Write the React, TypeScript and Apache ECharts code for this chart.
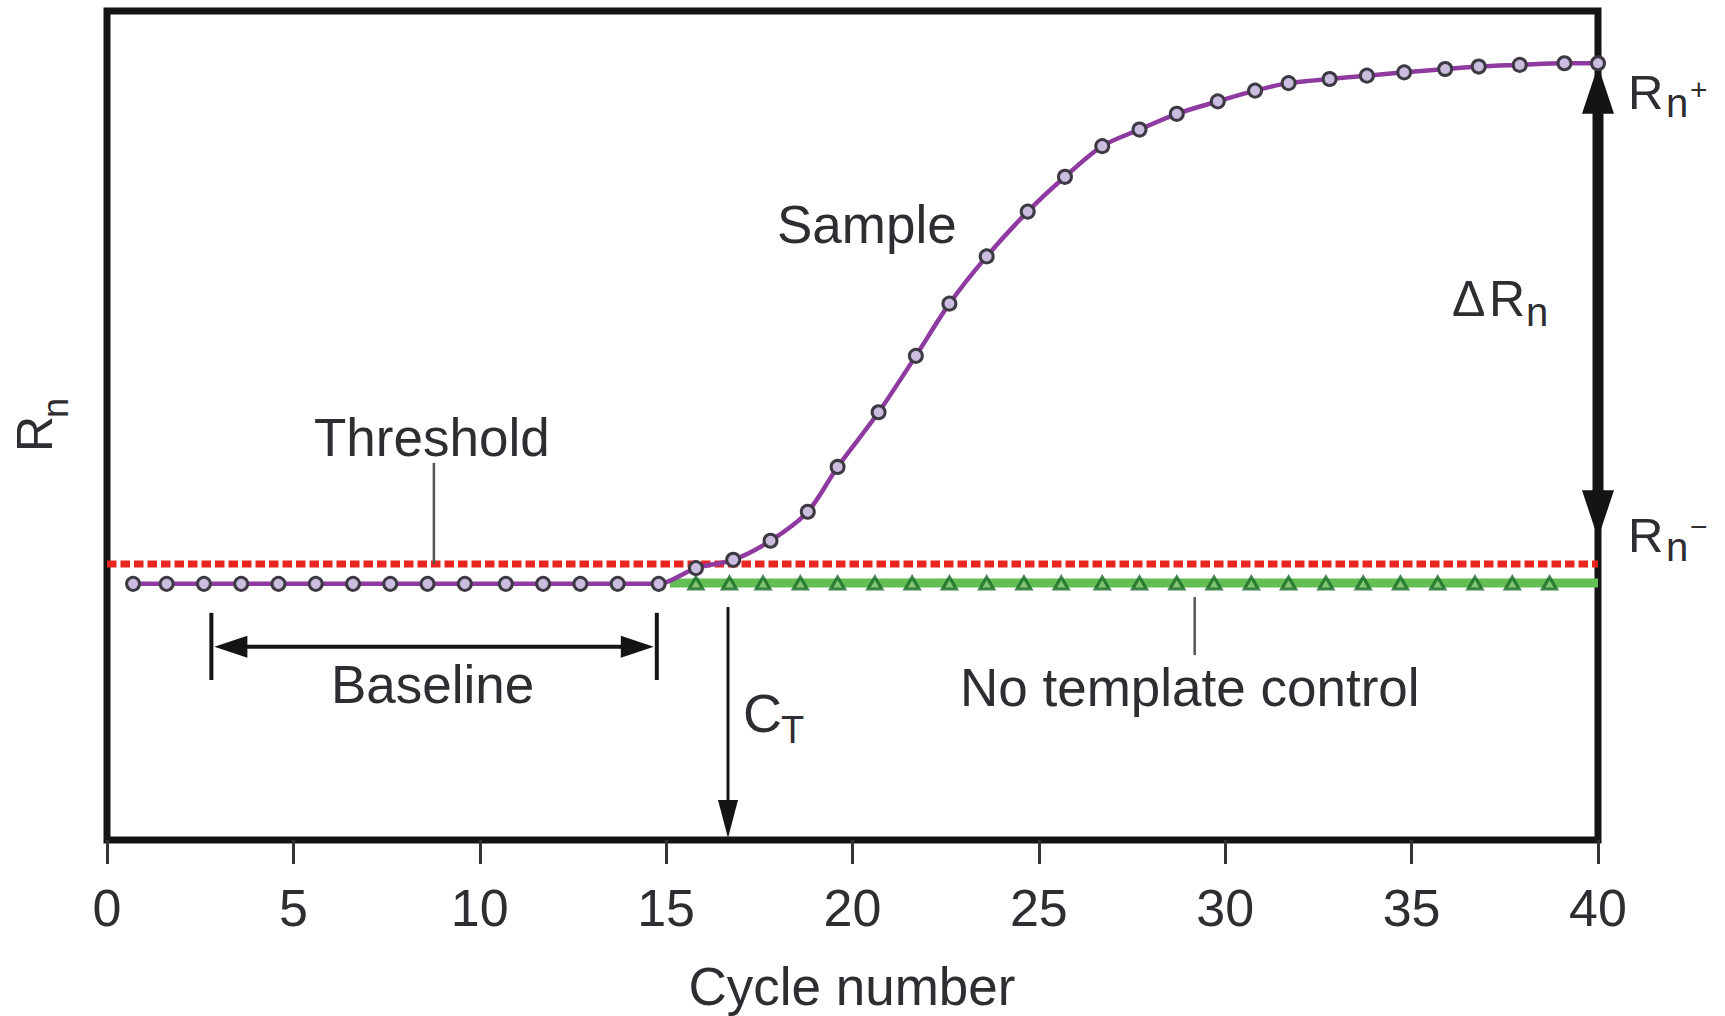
import React, { useEffect, useRef } from "react";
import * as echarts from "echarts";

// ---- data (x = cycle number, y = Rn in arbitrary units 0..100) ----
const sampleCycles = [
  0.7, 1.6, 2.6, 3.6, 4.6, 5.6, 6.6, 7.6, 8.6, 9.6, 10.7, 11.7, 12.7, 13.7, 14.8,
  15.8, 16.8, 17.8, 18.8, 19.6, 20.7, 21.7, 22.6, 23.6, 24.7,
  25.7, 26.7, 27.7, 28.7, 29.8, 30.8, 31.7, 32.8, 33.8, 34.8, 35.9, 36.8, 37.9, 39.1, 40.0,
];
const sampleRn = [
  30.9, 30.9, 30.9, 30.9, 30.9, 30.9, 30.9, 30.9, 30.9, 30.9, 30.9, 30.9, 30.9, 30.9, 30.9,
  32.8, 33.8, 36.1, 39.6, 45.0, 51.6, 58.4, 64.7, 70.4, 75.8,
  80.0, 83.7, 85.7, 87.6, 89.1, 90.4, 91.3, 91.8, 92.2, 92.6, 93.0, 93.3, 93.5, 93.7, 93.7,
];
const ntcCycles = [
  15.8, 16.7, 17.6, 18.6, 19.6, 20.6, 21.6, 22.6, 23.6, 24.6, 25.6, 26.7,
  27.7, 28.7, 29.7, 30.7, 31.7, 32.7, 33.7, 34.7, 35.7, 36.7, 37.7, 38.7,
];
const ntcRn = [
  31.0, 31.0, 31.0, 31.0, 31.0, 31.0, 31.0, 31.0, 31.0, 31.0, 31.0, 31.0,
  31.0, 31.0, 31.0, 31.0, 31.0, 31.0, 31.0, 31.0, 31.0, 31.0, 31.0, 31.0,
];
const ntcLineCycles = [15.1, 40.0];
const ntcLineRn = [31.0, 31.0];
const thresholdCycles = [0, 40];
const thresholdRn = [33.3, 33.3];

// annotation anchors (data units)
const baselineRange = [2.8, 14.75];
const baselineArrowRn = 23.3;
const baselineBarRn = [27.4, 19.3];
const ctCycle = 16.66;
const ctRn = [28.1, 0];
const thresholdLeaderCycle = 8.77;
const thresholdLeaderRn = [45.5, 33.3];
const ntcLeaderCycle = 29.18;
const ntcLeaderRn = [29.3, 22.3];
const deltaCycle = 40;
const deltaRn = [93.4, 36.4];

const xMin = 0;
const xMax = 40;
const xStep = 5;

export default function App() {
  const ref = useRef<HTMLDivElement>(null);
  useEffect(() => {
    const el = ref.current as HTMLDivElement;
    const chart = echarts.init(el, null, { renderer: "svg" });
    const font = "'Liberation Sans', Arial, Helvetica, sans-serif";
    const ink = "#2e2d31";
    const zip = (a: number[], b: number[]) => a.map((v, i) => [v, b[i]]);

    chart.setOption({
      animation: false,
      backgroundColor: "#ffffff",
      grid: {
        left: 107,
        right: 127,
        top: 11,
        bottom: 176,
        show: true,
        borderColor: "#141414",
        borderWidth: 7,
        backgroundColor: "transparent",
      },
      xAxis: {
        type: "value",
        min: xMin,
        max: xMax,
        interval: xStep,
        axisLine: { show: false },
        axisTick: { show: true, length: 24, lineStyle: { color: "#333", width: 3 } },
        axisLabel: { fontSize: 52, fontFamily: font, color: ink, margin: 42 },
        splitLine: { show: false },
      },
      yAxis: { type: "value", min: 0, max: 100, show: false, splitLine: { show: false } },
      series: [
        {
          type: "line",
          name: "NTC baseline",
          data: zip(ntcLineCycles, ntcLineRn),
          symbol: "none",
          lineStyle: { color: "#63bf54", width: 9 },
          z: 2,
        },
        {
          type: "line",
          name: "Threshold",
          data: zip(thresholdCycles, thresholdRn),
          symbol: "none",
          lineStyle: { color: "#e8261f", width: 7, type: [9.5, 4], cap: "butt" },
          z: 3,
        },
        {
          type: "scatter",
          name: "No template control",
          data: zip(ntcCycles, ntcRn),
          symbol: "triangle",
          symbolSize: [14, 12],
          itemStyle: { color: "#86c878", borderColor: "#186a26", borderWidth: 3 },
          z: 4,
        },
        {
          type: "line",
          name: "Sample",
          data: zip(sampleCycles, sampleRn),
          smooth: 0.3,
          symbol: "circle",
          symbolSize: 13,
          showAllSymbol: true,
          lineStyle: { color: "#8e3aa0", width: 4.5 },
          itemStyle: { color: "#cbbde0", borderColor: "#3e3a44", borderWidth: 3 },
          z: 12,
        },
      ],
    });

    const P = (x: number, v: number) =>
      chart.convertToPixel({ seriesIndex: 3 }, [x, v]) as number[];

    const lineEl = (a: number[], b: number[], w: number, color: string) => ({
      type: "line",
      z: 10,
      shape: { x1: a[0], y1: a[1], x2: b[0], y2: b[1] },
      style: { stroke: color, lineWidth: w, lineCap: "butt" },
    });
    const poly = (pts: number[][], color: string) => ({
      type: "polygon",
      z: 10,
      shape: { points: pts },
      style: { fill: color, stroke: null },
    });
    const T = (
      text: string,
      x: number,
      y: number,
      size: number,
      align: string = "left",
      rotation: number = 0
    ) => ({
      type: "text",
      x,
      y,
      rotation,
      z: 20,
      style: {
        text,
        fontSize: size,
        fontFamily: font,
        fill: ink,
        align,
        verticalAlign: "middle",
        textAlign: align,
        textVerticalAlign: "middle",
      },
    });

    const dark = "#141414";
    const g: any[] = [];

    // threshold leader
    g.push(
      lineEl(P(thresholdLeaderCycle, thresholdLeaderRn[0]), P(thresholdLeaderCycle, thresholdLeaderRn[1]), 2.5, "#555")
    );
    // no template control leader
    g.push(lineEl(P(ntcLeaderCycle, ntcLeaderRn[0]), P(ntcLeaderCycle, ntcLeaderRn[1]), 2.5, "#555"));

    // baseline bracket
    const bl = P(baselineRange[0], baselineArrowRn);
    const br = P(baselineRange[1], baselineArrowRn);
    const blTop = P(baselineRange[0], baselineBarRn[0]);
    const blBot = P(baselineRange[0], baselineBarRn[1]);
    const brTop = P(baselineRange[1], baselineBarRn[0]);
    const brBot = P(baselineRange[1], baselineBarRn[1]);
    const hl = 36;
    const hh = 11;
    g.push(lineEl(blTop, blBot, 4, dark));
    g.push(lineEl(brTop, brBot, 4, dark));
    g.push(lineEl([bl[0] + hl - 2, bl[1]], [br[0] - hl + 2, br[1]], 4, dark));
    g.push(poly([[bl[0] + 3, bl[1]], [bl[0] + hl, bl[1] - hh], [bl[0] + hl, bl[1] + hh]], dark));
    g.push(poly([[br[0] - 3, br[1]], [br[0] - hl, br[1] - hh], [br[0] - hl, br[1] + hh]], dark));

    // CT arrow
    const ct0 = P(ctCycle, ctRn[0]);
    const ct1 = P(ctCycle, ctRn[1]);
    g.push(lineEl(ct0, [ct1[0], ct1[1] - 36], 3, dark));
    g.push(poly([[ct1[0] - 10, ct1[1] - 40], [ct1[0] + 10, ct1[1] - 40], [ct1[0], ct1[1] - 2]], dark));

    // delta Rn arrow on right border
    const dTop = P(deltaCycle, deltaRn[0]);
    const dBot = P(deltaCycle, deltaRn[1]);
    const ah = 48;
    const aw = 16;
    g.push(lineEl([dTop[0], dTop[1] + ah - 4], [dBot[0], dBot[1] - ah + 4], 11, dark));
    g.push(poly([[dTop[0], dTop[1]], [dTop[0] - aw, dTop[1] + ah], [dTop[0] + aw, dTop[1] + ah]], dark));
    g.push(poly([[dBot[0], dBot[1]], [dBot[0] - aw, dBot[1] - ah], [dBot[0] + aw, dBot[1] - ah]], dark));

    // texts
    g.push(T("Sample", 777, 224, 53));
    g.push(T("Threshold", 314, 437, 53));
    g.push(T("Baseline", 331, 684, 53));
    g.push(T("No template control", 960, 687, 53));
    g.push(T("Cycle number", 852, 986, 53, "center"));
    g.push(T("C", 743, 713, 54));
    g.push(T("T", 781, 730, 38));
    g.push(T("R", 1628, 92, 49));
    g.push(T("n", 1666, 103, 40));
    g.push(T("+", 1690, 89, 30));
    g.push(T("R", 1628, 535, 49));
    g.push(T("n", 1666, 547, 40));
    g.push(T("\u2212", 1690, 526, 30));
    g.push(T("\u0394", 1452, 299, 50));
    g.push(T("R", 1489, 299, 50));
    g.push(T("n", 1526, 312, 40));
    g.push(T("R", 35, 434, 50, "center", Math.PI / 2));
    g.push(T("n", 55, 408, 36, "center", Math.PI / 2));

    chart.setOption({ graphic: { elements: g } });

    return () => chart.dispose();
  }, []);

  return (
    <div
      ref={ref}
      style={{ position: "fixed", left: 0, top: 0, width: 1725, height: 1016, background: "#fff" }}
    />
  );
}
